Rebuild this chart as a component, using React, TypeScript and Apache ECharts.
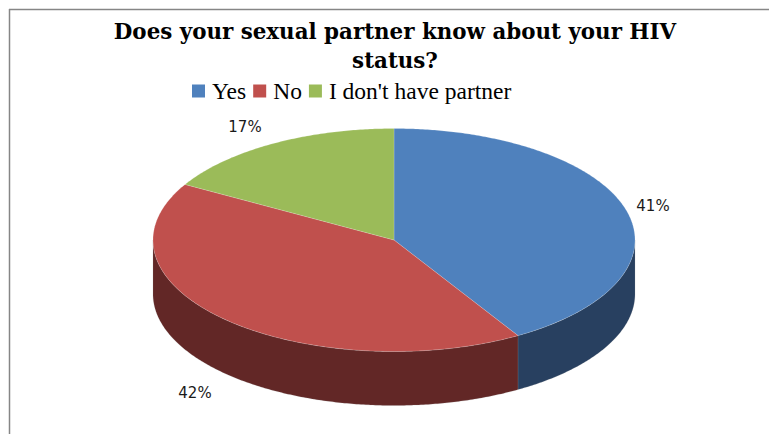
import React, { useEffect, useRef } from "react";
import * as echarts from "echarts";

const categories = ["Yes", "No", "I don't have partner"];
const values = [41.4, 41.9, 16.7];
const topColors = ["#4F81BD", "#C0504D", "#9BBB59"];
const wallColors = ["#284060", "#622726", "#4F6228"];
const labelPos = [
  [653, 206],
  [195, 393],
  [245, 127],
];
const titleText = "Does your sexual partner know about your HIV\nstatus?";

const CX = 394, CY = 240, RX = 241, RY = 111.5, DEPTH = 54;
const total = values.reduce((a, b) => a + b, 0);

function pt(a: number, dy = 0): number[] {
  return [CX + RX * Math.sin(a), CY - RY * Math.cos(a) + dy];
}

function arc(a0: number, a1: number, dy = 0): number[][] {
  const n = Math.max(2, Math.ceil(Math.abs(a1 - a0) / 0.01));
  const out: number[][] = [];
  for (let i = 0; i <= n; i++) out.push(pt(a0 + ((a1 - a0) * i) / n, dy));
  return out;
}

function makeRender(index: number) {
  return (_params: any, api: any) => {
    const v = api.value(0);
    let before = 0;
    for (let i = 0; i < index; i++) before += values[i];
    const a0 = (before / total) * Math.PI * 2;
    const a1 = ((before + v) / total) * Math.PI * 2;
    const children: any[] = [];
    const w0 = Math.max(a0, Math.PI / 2);
    const w1 = Math.min(a1, (Math.PI * 3) / 2);
    if (w1 > w0) {
      children.push({
        type: "polygon",
        shape: { points: [...arc(w0, w1), ...arc(w1, w0, DEPTH)] },
        style: { fill: wallColors[index], stroke: "rgba(150,150,150,0.35)", lineWidth: 0.5 },
      });
    }
    children.push({
      type: "polygon",
      shape: { points: [[CX, CY], ...arc(a0, a1)] },
      style: { fill: topColors[index], stroke: "rgba(255,255,255,0.35)", lineWidth: 0.5 },
    });
    children.push({
      type: "text",
      x: labelPos[index][0],
      y: labelPos[index][1],
      style: {
        text: Math.round((v / total) * 100) + "%",
        fontFamily: "'DejaVu Sans'",
        fontSize: 15,
        fill: "#1a1a1a",
        align: "center",
        verticalAlign: "middle",
      },
    });
    return { type: "group", children };
  };
}

export default function App() {
  const ref = useRef<HTMLDivElement>(null);
  useEffect(() => {
    const chart = echarts.init(ref.current!, undefined, { renderer: "svg" });
    chart.setOption({
      animation: false,
      backgroundColor: "#fff",
      title: {
        text: titleText,
        left: 390,
        top: 12,
        textAlign: "center",
        textStyle: {
          fontFamily: "'DejaVu Serif'",
          fontWeight: "bold",
          fontSize: 21.4,
          lineHeight: 29,
          color: "#000",
        },
      },
      legend: {
        left: 187,
        top: 74,
        icon: "rect",
        itemWidth: 13,
        itemHeight: 13,
        itemGap: 7,
        data: categories,
        textStyle: {
          fontFamily: "'Liberation Serif'",
          fontSize: 23.5,
          color: "#000",
          padding: [0, 0, 0, 2],
        },
      },
      graphic: [
        { type: "line", shape: { x1: 9.5, y1: 9, x2: 9.5, y2: 434 }, style: { stroke: "#868686", lineWidth: 1.5 } },
        { type: "line", shape: { x1: 9, y1: 9.5, x2: 769, y2: 9.5 }, style: { stroke: "#868686", lineWidth: 1.5 } },
      ],
      series: categories.map((name, i) => ({
        type: "custom",
        name,
        coordinateSystem: "none",
        color: topColors[i],
        silent: true,
        data: [[values[i]]],
        renderItem: makeRender(i),
      })),
    });
    return () => chart.dispose();
  }, []);
  return <div ref={ref} style={{ position: "absolute", left: 0, top: 0, width: 769, height: 434 }} />;
}
